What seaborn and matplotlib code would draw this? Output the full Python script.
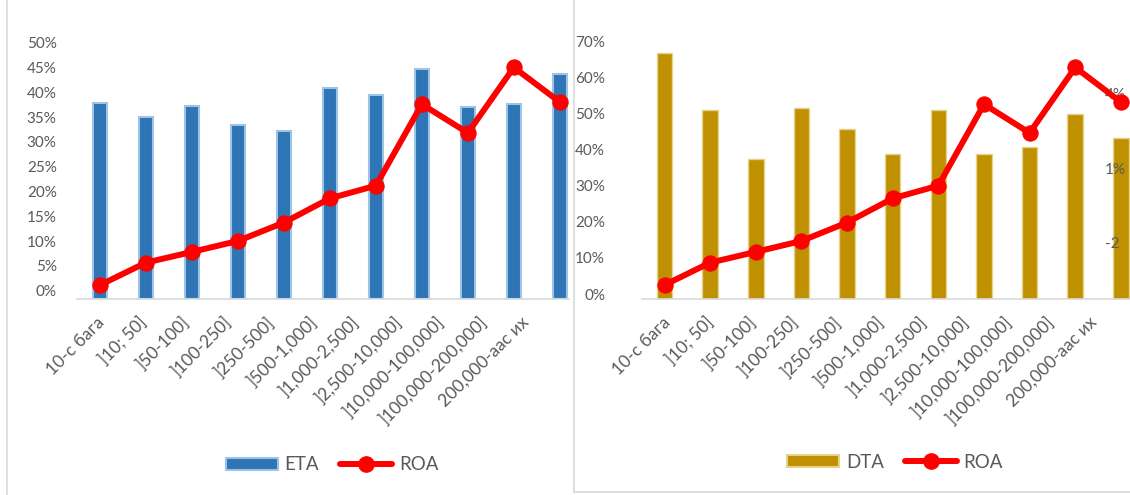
import numpy as np
import pandas as pd
import matplotlib
matplotlib.use("Agg")
import matplotlib.pyplot as plt
import seaborn as sns
from matplotlib.lines import Line2D
from matplotlib.patches import Patch
from matplotlib.transforms import ScaledTranslation
from matplotlib.ticker import PercentFormatter

sns.set_theme(style="white")
plt.rcParams['font.family'] = ['Lato', 'Noto Sans', 'DejaVu Sans']

categories = ["10-с бага", "]10; 50]", "]50-100]", "]100-250]", "]250-500]",
              "]500-1,000]", "]1,000-2,500]", "]2,500-10,000]", "]10,000-100,000]",
              "]100,000-200,000]", "200,000-аас их"]
eta = [39.4, 36.6, 38.9, 35.0, 33.8, 42.4, 41.0, 46.4, 38.6, 39.2, 45.4]
dta = [68.1, 52.4, 38.8, 52.9, 47.0, 40.2, 52.4, 40.2, 42.0, 51.3, 44.5]
roa = [-3.70, -2.80, -2.37, -1.93, -1.19, -0.22, 0.29, 3.56, 2.41, 5.04, 3.65]
left_ticks = [0, 5, 10, 15, 20, 25, 30, 35, 40, 45, 50]
right_ticks = [0, 10, 20, 30, 40, 50, 60, 70]
roa_ticks = [-2, 1, 4]
roa_tick_labels = ["-2", "1%", "4%"]

W, H = 1130, 495
DPI = 100
fig = plt.figure(figsize=(W / DPI, H / DPI), dpi=DPI)

ETA_C = "#2E75B6"
ETA_EDGE = "#9DC3E6"
DTA_C = "#BF9000"
DTA_EDGE = "#E6D28A"
RED = "#FF0000"
TXT = "#595959"
GRID = "#D9D9D9"

df = pd.DataFrame({"cat": categories, "ETA": eta, "DTA": dta, "ROA": roa})
xs = np.arange(len(categories))


def px_axes(x0, x1, ytop, ybot):
    return fig.add_axes([x0 / W, 1 - ybot / H, (x1 - x0) / W, (ybot - ytop) / H])


def style_primary(ax, ticks, top, pad, dy, lab_base, lab_step):
    ax.set_xlim(-0.5, 10.2)
    ax.set_ylim(0, top)
    ax.set_yticks(ticks)
    ax.yaxis.set_major_formatter(PercentFormatter(decimals=0))
    ax.tick_params(axis="y", length=0, pad=pad, labelsize=11, labelcolor=TXT)
    ax.tick_params(axis="x", length=0, pad=11, labelsize=12.5, labelcolor=TXT)
    for s in ["top", "right", "left"]:
        ax.spines[s].set_visible(False)
    ax.spines["bottom"].set_color(GRID)
    ax.spines["bottom"].set_linewidth(1.2)
    ax.set_xlabel("")
    ax.set_ylabel("")
    ax.set_xticks(xs)
    ax.set_xticklabels(categories, rotation=45, ha="right", rotation_mode="anchor")
    # Excel packs the rotated labels slightly tighter than the category spacing
    for i, lab in enumerate(ax.get_xticklabels()):
        dx = lab_base + lab_step * i
        lab.set_transform(lab.get_transform() + ScaledTranslation(dx / DPI, 0, fig.dpi_scale_trans))
    for lab in ax.get_yticklabels():
        lab.set_transform(lab.get_transform() + ScaledTranslation(0, dy / DPI, fig.dpi_scale_trans))


def roa_line(ax2, lo, hi):
    sns.lineplot(x=xs, y=roa, ax=ax2, color=RED, linewidth=4.3, marker="o",
                 markersize=11, markeredgecolor=RED, zorder=5)
    ax2.set_ylim(lo, hi)
    ax2.set_xlim(-0.5, 10.2)
    for s in ax2.spines.values():
        s.set_visible(False)
    ax2.set_ylabel("")


# ---------- Left chart ----------
axL = px_axes(77, 569, 40, 298.7)
sns.barplot(data=df, x="cat", y="ETA", ax=axL, color=ETA_C, width=0.3,
            edgecolor=ETA_EDGE, linewidth=1.5, saturation=1)
style_primary(axL, left_ticks, (298.7 - 40) / 4.96, 14.6, 8, -4, -3.5)
axL2 = axL.twinx()
roa_line(axL2, 4 - (298.7 - 93.3) / 24.9, 4 + (93.3 - 40) / 24.9)
axL2.set_yticks([])

# ---------- Right chart ----------
axR = px_axes(641.7, 1130, 30, 298.7)
sns.barplot(data=df, x="cat", y="DTA", ax=axR, color=DTA_C, width=0.34,
            edgecolor=DTA_EDGE, linewidth=1, saturation=1)
style_primary(axR, right_ticks, (298.7 - 30) / 3.604, 26.4, 4.7, -2, -3.05)
axR2 = axR.twinx()
roa_line(axR2, 4 - (298.7 - 93.3) / 24.9, 4 + (93.3 - 30) / 24.9)
axR2.set_yticks(roa_ticks)
axR2.set_yticklabels(roa_tick_labels)
axR2.tick_params(axis="y", length=0, pad=-18, labelsize=11, labelcolor=TXT)
for lab in axR2.get_yticklabels():
    lab.set_horizontalalignment("left")

# ---------- Legends ----------
def legend(bar_label, bar_c, bar_edge, cx, cy):
    handles = [Patch(facecolor=bar_c, edgecolor=bar_edge, linewidth=1.5, label=bar_label),
               Line2D([0], [0], color=RED, linewidth=4.3, marker="o", markersize=11,
                      label="ROA")]
    leg = fig.legend(handles=handles, loc="center", bbox_to_anchor=(cx / W, 1 - cy / H),
                     ncol=2, frameon=False, fontsize=13.5, handlelength=2.8,
                     handleheight=0.55, handletextpad=0.35, columnspacing=1.1)
    for t in leg.get_texts():
        t.set_color(TXT)


legend("ETA", ETA_C, ETA_EDGE, 332, 465)
legend("DTA", DTA_C, DTA_EDGE, 895, 462)

# ---------- Panel frames ----------
fig.add_artist(Line2D([7 / W, 7 / W], [0, 1], color=GRID, linewidth=1.2))
fig.add_artist(Line2D([574 / W, 574 / W], [1 - 492 / H, 1], color=GRID, linewidth=1.2))
fig.add_artist(Line2D([574 / W, 1], [1 - 492 / H, 1 - 492 / H], color=GRID, linewidth=1.2))

fig.savefig("out.png", dpi=DPI)
